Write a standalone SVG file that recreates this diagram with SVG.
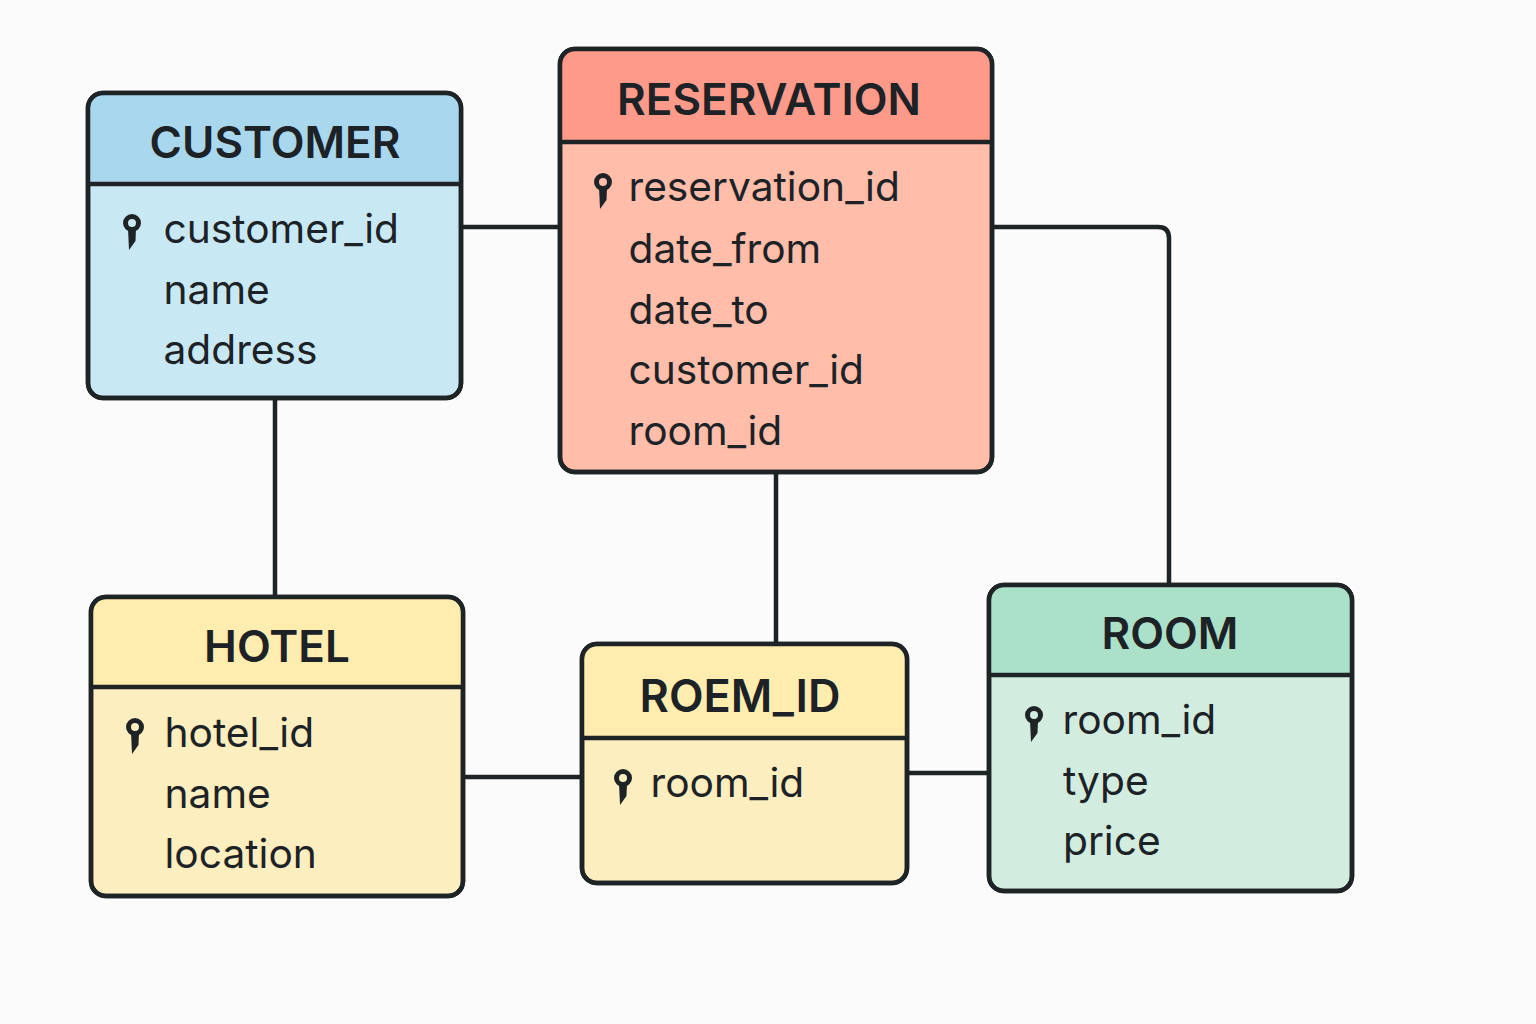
<svg xmlns="http://www.w3.org/2000/svg" width="1536" height="1024" viewBox="0 0 1536 1024">
<defs>
<style>
.box{stroke:#1e2326;stroke-width:4.5}
.sep{stroke:#1e2326;stroke-width:4.5;fill:none}
.conn{stroke:#1e2326;stroke-width:4.5;fill:none}
.t{font-family:Inter,"Noto Sans",sans-serif;font-size:44px;font-weight:600;fill:#1c2226;text-anchor:middle}
.f{font-family:Inter,"Noto Sans",sans-serif;font-size:40.7px;fill:#1c2226}
</style>
<g id="key"><circle cx="0" cy="-5" r="6.5" fill="none" stroke="#1e2326" stroke-width="5"/><path d="M-4 0 L4 0 L3.5 13 L-3 22 Z" fill="#1e2326"/></g>
</defs>
<rect width="1536" height="1024" fill="#fbfbfb"/>
<g id="connectors">
<path class="conn" d="M461 227H560"/>
<path class="conn" d="M275 398V597"/>
<path class="conn" d="M992 227H1158Q1169 227 1169 238V585"/>
<path class="conn" d="M776 472V644"/>
<path class="conn" d="M463 777H582"/>
<path class="conn" d="M907 773H989"/>
</g>
<g id="customer">
<rect class="box" x="88" y="93" width="373" height="305" rx="15" fill="#c8e8f4"/>
<path d="M90 184V108Q90 95 103 95H446Q459 95 459 108V184Z" fill="#a8d7ee"/>
<path class="sep" d="M88 184H461"/>
<rect x="88" y="93" width="373" height="305" rx="15" fill="none" class="box"/>
<text class="t" x="275" y="158">CUSTOMER</text>
<use href="#key" x="132" y="228"/>
<text class="f" x="163.5" y="243">customer_id</text>
<text class="f" x="163.5" y="304">name</text>
<text class="f" x="163.5" y="364">address</text>
</g>
<g id="reservation">
<rect class="box" x="560" y="49" width="432" height="423" rx="15" fill="#ffbdaa"/>
<path d="M562 141V64Q562 51 575 51H977Q990 51 990 64V141Z" fill="#fd9a8a"/>
<path class="sep" d="M560 142H992"/>
<rect x="560" y="49" width="432" height="423" rx="15" fill="none" class="box"/>
<text class="t" x="769" y="115">RESERVATION</text>
<use href="#key" x="603" y="187"/>
<text class="f" x="628.5" y="201">reservation_id</text>
<text class="f" x="628.5" y="263">date_from</text>
<text class="f" x="628.5" y="323.500">date_to</text>
<text class="f" x="628.5" y="384">customer_id</text>
<text class="f" x="628.5" y="444.500">room_id</text>
</g>
<g id="hotel">
<rect class="box" x="91" y="597" width="372" height="299" rx="15" fill="#fdeebf"/>
<path d="M93 687V612Q93 599 106 599H448Q461 599 461 612V687Z" fill="#feedae"/>
<path class="sep" d="M91 687H463"/>
<rect x="91" y="597" width="372" height="299" rx="15" fill="none" class="box"/>
<text class="t" x="277" y="662">HOTEL</text>
<use href="#key" x="135" y="732"/>
<text class="f" x="164.5" y="747">hotel_id</text>
<text class="f" x="164.5" y="808">name</text>
<text class="f" x="164.5" y="868">location</text>
</g>
<g id="roem_id">
<rect class="box" x="582" y="644" width="325" height="239" rx="15" fill="#fdeebf"/>
<path d="M584 738V659Q584 646 597 646H892Q905 646 905 659V738Z" fill="#feedae"/>
<path class="sep" d="M582 738H907"/>
<rect x="582" y="644" width="325" height="239" rx="15" fill="none" class="box"/>
<text class="t" x="740" y="712" style="font-size:45px">ROEM_ID</text>
<use href="#key" x="623" y="783"/>
<text class="f" x="650.5" y="797">room_id</text>
</g>
<g id="room">
<rect class="box" x="989" y="585" width="363" height="306" rx="15" fill="#d2ecdf"/>
<path d="M991 675V600Q991 587 1004 587H1337Q1350 587 1350 600V675Z" fill="#abe0c9"/>
<path class="sep" d="M989 675H1352"/>
<rect x="989" y="585" width="363" height="306" rx="15" fill="none" class="box"/>
<text class="t" x="1170" y="649">ROOM</text>
<use href="#key" x="1034" y="720"/>
<text class="f" x="1062.5" y="734">room_id</text>
<text class="f" x="1063" y="794.500">type</text>
<text class="f" x="1063" y="855">price</text>
</g>
</svg>
